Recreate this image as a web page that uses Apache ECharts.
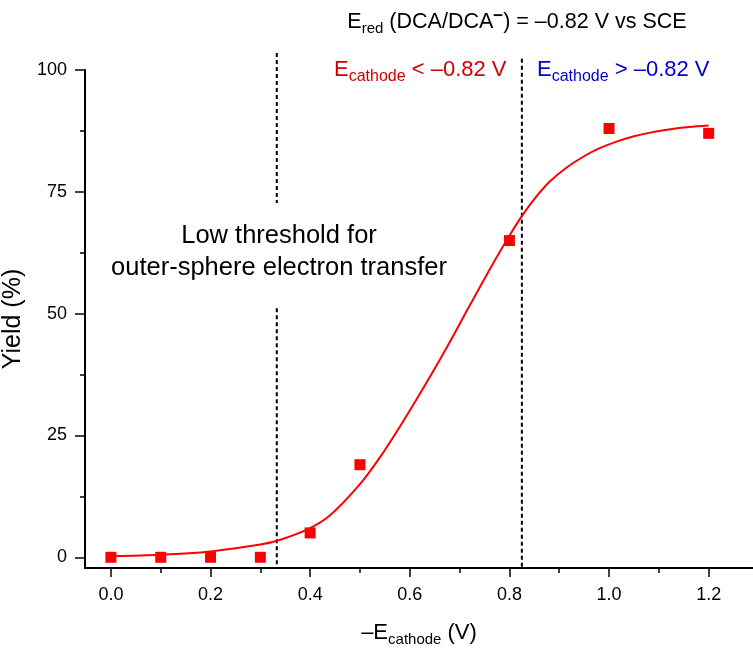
<!DOCTYPE html>
<html><head><meta charset="utf-8">
<script src="https://cdn.jsdelivr.net/npm/echarts@6/dist/echarts.min.js"></script>
<style>html,body{margin:0;padding:0;background:#fff}#c{width:753px;height:648px}</style>
</head><body><div id="c"></div>
<script>
// measured points
const potentials = [0.0, 0.1, 0.2, 0.3, 0.4, 0.5, 0.8, 1.0, 1.2];
const yields = [0, 0, 0, 0, 5, 19, 65, 88, 87];
// fitted curve
const fitX = [0.0, 0.1, 0.2, 0.3, 0.34, 0.4, 0.44, 0.5, 0.54, 0.58, 0.62, 0.67, 0.72, 0.77, 0.8, 0.825, 0.85, 0.88, 0.915, 0.95, 0.98, 1.015, 1.05, 1.08, 1.12, 1.16, 1.2];
const fitY = [0.2, 0.5, 1.2, 2.6, 3.6, 6.0, 8.6, 15.0, 20.5, 26.8, 33.5, 42.3, 51.6, 60.8, 66.0, 70.0, 73.5, 77.0, 80.0, 82.3, 83.9, 85.3, 86.4, 87.1, 87.8, 88.3, 88.6];
// axis ticks
const yTicks = [0, 25, 50, 75, 100];
const yMinorTicks = [12.5, 37.5, 62.5, 87.5];
const xTicks = [0.0, 0.2, 0.4, 0.6, 0.8, 1.0, 1.2];
const xMinorTicks = [0.1, 0.3, 0.5, 0.7, 0.9, 1.1];
// annotation lines
const lowThresholdX = 0.333;
const lowThresholdUpper = [103.5, 72.7];
const lowThresholdLower = [51.1, -2.2];
const eredX = 0.825;
const eredSpan = [102.3, -2.2];

const X_MIN = -0.052, X_MAX = 1.289, Y_MIN = -2.2, Y_MAX = 100;
const FONT = '"Liberation Sans", Arial, sans-serif';

const chart = echarts.init(document.getElementById('c'));

const fitData = fitX.map((x, i) => [x, fitY[i]]);
const pointData = potentials.map((x, i) => [x, yields[i]]);

const dashed = { color: '#000', width: 2, type: [4, 3] };

function xAxisBase(extra) {
  return Object.assign({
    type: 'value', min: X_MIN, max: X_MAX, position: 'bottom',
    splitLine: { show: false }
  }, extra);
}
function yAxisBase(extra) {
  return Object.assign({
    type: 'value', min: Y_MIN, max: Y_MAX, position: 'left',
    splitLine: { show: false }
  }, extra);
}

const option = {
  backgroundColor: '#fff',
  animation: false,
  grid: { left: 85, right: 0, top: 70, bottom: 80, containLabel: false, outerBoundsMode: 'none' },
  xAxis: [
    xAxisBase({
      name: '{n|–E}{s|cathode}{n| (V)}',
      nameLocation: 'middle', nameGap: 52,
      nameTextStyle: {
        rich: {
          n: { fontSize: 22, fontFamily: FONT, color: '#000', lineHeight: 26 },
          s: { fontSize: 15, fontFamily: FONT, color: '#000', lineHeight: 15, padding: [14, 0, 0, 0] }
        }
      },
      axisLine: { show: true, onZero: false, lineStyle: { color: '#000', width: 2 } },
      axisTick: { show: true, length: 9, lineStyle: { color: '#000', width: 1.5 }, customValues: xTicks },
      axisLabel: { show: true, customValues: xTicks, margin: 18, fontSize: 18, fontFamily: FONT, color: '#000',
        formatter: v => Number(v).toFixed(1) }
    }),
    xAxisBase({
      axisLine: { show: false, onZero: false },
      axisTick: { show: true, length: 5, lineStyle: { color: '#000', width: 1.5 }, customValues: xMinorTicks },
      axisLabel: { show: false }
    })
  ],
  yAxis: [
    yAxisBase({
      name: 'Yield (%)', nameLocation: 'middle', nameGap: 50, nameRotate: 90,
      nameTextStyle: { fontSize: 25, fontFamily: FONT, color: '#000' },
      axisLine: { show: true, onZero: false, lineStyle: { color: '#000', width: 2 } },
      axisTick: { show: true, length: 10, lineStyle: { color: '#000', width: 1.5 }, customValues: yTicks },
      axisLabel: { show: true, customValues: yTicks, margin: 18, fontSize: 18, fontFamily: FONT, color: '#000' }
    }),
    yAxisBase({
      axisLine: { show: false, onZero: false },
      axisTick: { show: true, length: 5, lineStyle: { color: '#000', width: 1.5 }, customValues: yMinorTicks },
      axisLabel: { show: false }
    })
  ],
  series: [
    {
      type: 'line', data: [[lowThresholdX, lowThresholdUpper[0]], [lowThresholdX, lowThresholdUpper[1]]],
      clip: false, showSymbol: false, symbol: 'none', lineStyle: dashed, silent: true, z: 1
    },
    {
      type: 'line', data: [[lowThresholdX, lowThresholdLower[0]], [lowThresholdX, lowThresholdLower[1]]],
      clip: false, showSymbol: false, symbol: 'none', lineStyle: dashed, silent: true, z: 1
    },
    {
      type: 'line', data: [[eredX, eredSpan[0]], [eredX, eredSpan[1]]],
      clip: false, showSymbol: false, symbol: 'none', lineStyle: dashed, silent: true, z: 1
    },
    {
      type: 'line', data: fitData, smooth: 0.3, showSymbol: false, symbol: 'none',
      lineStyle: { color: '#ff0000', width: 2 }, z: 3
    },
    {
      type: 'scatter', data: pointData, symbol: 'rect', symbolSize: 11,
      itemStyle: { color: '#ff0000', opacity: 1 }, z: 4
    }
  ],
  graphic: [
    {
      type: 'text', x: 517, y: 22,
      style: {
        text: '{n|E}{s|red}{n| (DCA/DCA}{p|−}{n|) = –0.82 V vs SCE}',
        align: 'center', verticalAlign: 'middle',
        rich: {
          n: { fontSize: 21.5, fontFamily: FONT, fill: '#000', lineHeight: 24 },
          s: { fontSize: 15, fontFamily: FONT, fill: '#000', lineHeight: 15, padding: [13, 0, 0, 0] },
          p: { fontSize: 17, fontFamily: FONT, fill: '#000', fontWeight: 'bold', lineHeight: 16, padding: [0, 0, 12, 0] }
        }
      }
    },
    {
      type: 'text', x: 334, y: 70,
      style: {
        text: '{n|E}{s|cathode}{n| < –0.82 V}',
        align: 'left', verticalAlign: 'middle',
        rich: {
          n: { fontSize: 22, fontFamily: FONT, fill: '#cc0000', lineHeight: 24 },
          s: { fontSize: 16, fontFamily: FONT, fill: '#cc0000', lineHeight: 16, padding: [13, 0, 0, 0] }
        }
      }
    },
    {
      type: 'text', x: 537, y: 70,
      style: {
        text: '{n|E}{s|cathode}{n| > –0.82 V}',
        align: 'left', verticalAlign: 'middle',
        rich: {
          n: { fontSize: 22, fontFamily: FONT, fill: '#0000cc', lineHeight: 24 },
          s: { fontSize: 16, fontFamily: FONT, fill: '#0000cc', lineHeight: 16, padding: [13, 0, 0, 0] }
        }
      }
    },
    {
      type: 'text', x: 279, y: 252,
      style: {
        text: 'Low threshold for\nouter-sphere electron transfer',
        align: 'center', verticalAlign: 'middle',
        fontSize: 25.5, lineHeight: 32, fontFamily: FONT, fill: '#000'
      }
    }
  ]
};
chart.setOption(option);
</script>
</body></html>
